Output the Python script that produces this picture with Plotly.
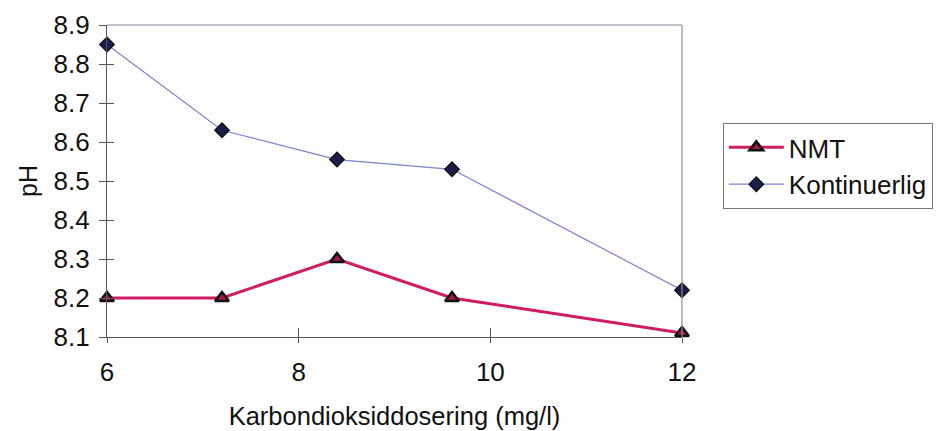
import plotly.graph_objects as go

# Carbon dioxide dosing (mg/l) and resulting pH
dosering = [6, 7.2, 8.4, 9.6, 12]
ph_nmt = [8.20, 8.20, 8.30, 8.20, 8.11]
ph_kontinuerlig = [8.85, 8.63, 8.555, 8.53, 8.22]

x_ticks = [6, 8, 10, 12]
y_ticks = [8.1, 8.2, 8.3, 8.4, 8.5, 8.6, 8.7, 8.8, 8.9]
x_range = [6, 12]
y_range = [8.1, 8.9]

FONT = "Liberation Sans, Arial, sans-serif"

fig = go.Figure()

fig.add_trace(go.Scatter(
    x=dosering, y=ph_nmt, name="NMT", mode="lines+markers",
    line=dict(color="#d11b63", width=3),
    marker=dict(symbol="triangle-up", size=12, color="#a3184a",
                line=dict(color="#111111", width=2.5)),
    cliponaxis=False,
))
fig.add_trace(go.Scatter(
    x=dosering, y=ph_kontinuerlig, name="Kontinuerlig", mode="lines+markers",
    line=dict(color="#7b82cf", width=1.2),
    marker=dict(symbol="diamond", size=11, color="#1c1f4e",
                line=dict(color="#111111", width=1.5)),
    cliponaxis=False,
))
# empty trace that carries the inner tick marks
fig.add_trace(go.Scatter(x=[], y=[], xaxis="x2", yaxis="y2",
                         showlegend=False, hoverinfo="skip"))

axis_font = dict(family=FONT, size=26, color="#111111")

fig.update_layout(
    width=936, height=431,
    margin=dict(l=107, r=254, t=25, b=94, autoexpand=False),
    paper_bgcolor="white", plot_bgcolor="white",
    font=dict(family=FONT, color="#111111"),
    xaxis=dict(
        range=x_range, tickvals=x_ticks, ticktext=[str(v) for v in x_ticks],
        showgrid=False, zeroline=False, automargin=False,
        showline=True, linecolor="#55556a", linewidth=1.2,
        ticks="outside", ticklen=5, tickcolor="#55556a", tickwidth=1.2,
        tickfont=axis_font, ticklabelstandoff=7,
        title=dict(text="Karbondioksiddosering (mg/l)",
                   font=dict(family=FONT, size=25.5, color="#111111"), standoff=20),
    ),
    yaxis=dict(
        range=y_range, tickvals=y_ticks, ticktext=[f"{v:.1f}" for v in y_ticks],
        showgrid=False, zeroline=False, automargin=False,
        showline=True, linecolor="#55556a", linewidth=1.2,
        ticks="outside", ticklen=7, tickcolor="#55556a", tickwidth=1.2,
        tickfont=axis_font, ticklabelstandoff=4,
        title=dict(text="pH", font=dict(family=FONT, size=25, color="#111111"),
                   standoff=8),
    ),
    xaxis2=dict(
        overlaying="x", anchor="y2", range=x_range, tickvals=x_ticks,
        showticklabels=False, showgrid=False, zeroline=False, showline=False,
        ticks="inside", ticklen=9, tickcolor="#55556a", tickwidth=1.2,
    ),
    yaxis2=dict(
        overlaying="y", anchor="x2", range=y_range, tickvals=y_ticks,
        showticklabels=False, showgrid=False, zeroline=False, showline=False,
        ticks="inside", ticklen=7, tickcolor="#55556a", tickwidth=1.2,
    ),
    legend=dict(
        x=1.071, y=0.686, xanchor="left", yanchor="top",
        bordercolor="#777777", borderwidth=1, bgcolor="white",
        font=dict(family=FONT, size=26, color="#111111"),
        itemwidth=55, tracegroupgap=0,
    ),
    shapes=[
        dict(type="line", xref="paper", yref="paper", x0=0, x1=1, y0=1, y1=1,
             line=dict(color="#8a8a9a", width=1.2)),
        dict(type="line", xref="paper", yref="paper", x0=1, x1=1, y0=0, y1=1,
             line=dict(color="#8a8a9a", width=1.2)),
    ],
)

fig.write_html("out.html")
